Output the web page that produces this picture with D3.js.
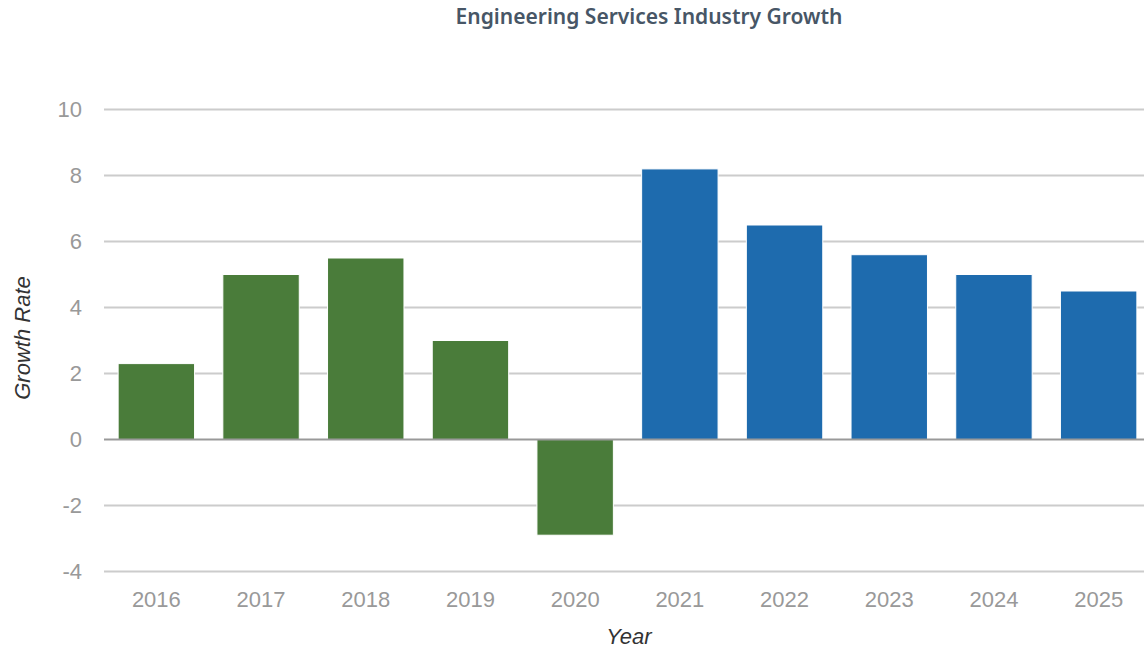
<!DOCTYPE html>
<html>
<head>
<meta charset="utf-8">
<script src="https://cdn.jsdelivr.net/npm/d3@7"></script>
<style>
  html, body { margin: 0; padding: 0; background: #fff; }
  svg { display: block; }
</style>
</head>
<body>
<svg id="chart" width="1144" height="651"></svg>
<script>
// Annual growth rate, actual (green) and forecast (blue)
const years = ["2016", "2017", "2018", "2019", "2020", "2021", "2022", "2023", "2024", "2025"];
const growth = [2.3, 5.0, 5.5, 3.0, -2.9, 8.2, 6.5, 5.6, 5.0, 4.5];
const phase = ["actual", "actual", "actual", "actual", "actual", "forecast", "forecast", "forecast", "forecast", "forecast"];
const yTicks = [-4, -2, 0, 2, 4, 6, 8, 10];

const svg = d3.select("#chart");
const plot = { left: 104, right: 1151, top: 109.5, bottom: 571.5 };
const labelFont = "'Liberation Sans', Arial, sans-serif";

const x = d3.scaleBand()
  .domain(years)
  .range([plot.left, plot.right])
  .paddingInner(0.27)
  .paddingOuter(0.135);

const y = d3.scaleLinear()
  .domain([-4, 10])
  .range([plot.bottom, plot.top]);

const color = d3.scaleOrdinal()
  .domain(["actual", "forecast"])
  .range(["#4a7c3a", "#1e6bae"]);

// Title
svg.append("text")
  .attr("x", 649)
  .attr("y", 24)
  .attr("text-anchor", "middle")
  .attr("font-family", "'Noto Sans', 'Open Sans', sans-serif")
  .attr("font-weight", 600)
  .attr("font-size", 21)
  .attr("fill", "#475666")
  .text("Engineering Services Industry Growth");

// Horizontal grid
svg.append("g")
  .selectAll("line")
  .data(yTicks.filter(d => d !== 0))
  .join("line")
  .attr("x1", plot.left)
  .attr("x2", plot.right)
  .attr("y1", d => y(d))
  .attr("y2", d => y(d))
  .attr("stroke", "#cccccc")
  .attr("stroke-width", 2);

// Y axis labels (plain hyphen for negatives)
const yAxis = d3.axisLeft(y)
  .tickValues(yTicks)
  .tickFormat(d => String(d))
  .tickSize(0)
  .tickPadding(0);
svg.append("g")
  .attr("transform", `translate(${82},0)`)
  .call(yAxis)
  .call(g => g.select(".domain").remove())
  .call(g => g.selectAll("text")
    .attr("font-family", labelFont)
    .attr("font-size", 22)
    .attr("fill", "#999999"));

// Bars
svg.append("g")
  .selectAll("rect")
  .data(years.map((yr, i) => ({ year: yr, value: growth[i], phase: phase[i] })))
  .join("rect")
  .attr("x", d => x(d.year))
  .attr("width", x.bandwidth())
  .attr("y", d => y(Math.max(0, d.value)))
  .attr("height", d => Math.abs(y(d.value) - y(0)))
  .attr("fill", d => color(d.phase))
  .attr("stroke", "#ffffff")
  .attr("stroke-width", 1);

// Zero line
svg.append("line")
  .attr("x1", plot.left)
  .attr("x2", plot.right)
  .attr("y1", y(0))
  .attr("y2", y(0))
  .attr("stroke", "#999999")
  .attr("stroke-width", 2);

// X axis labels
const xAxis = d3.axisBottom(x).tickSize(0).tickPadding(0);
svg.append("g")
  .attr("transform", `translate(0,${607})`)
  .call(xAxis)
  .call(g => g.select(".domain").remove())
  .call(g => g.selectAll("text")
    .attr("dy", 0)
    .attr("font-family", labelFont)
    .attr("font-size", 22)
    .attr("fill", "#999999"));

// Axis titles
svg.append("text")
  .attr("x", 629)
  .attr("y", 644)
  .attr("text-anchor", "middle")
  .attr("font-family", labelFont)
  .attr("font-style", "italic")
  .attr("font-size", 22)
  .attr("fill", "#333333")
  .text("Year");

svg.append("text")
  .attr("transform", `translate(30,338) rotate(-90)`)
  .attr("text-anchor", "middle")
  .attr("font-family", labelFont)
  .attr("font-style", "italic")
  .attr("font-size", 22)
  .attr("fill", "#333333")
  .text("Growth Rate");
</script>
</body>
</html>
